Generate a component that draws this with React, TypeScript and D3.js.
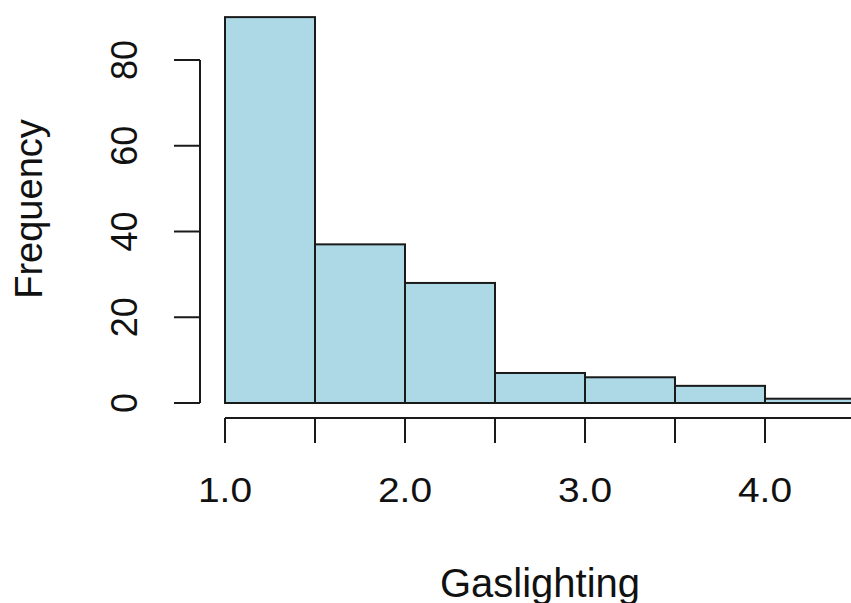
import React from "react";
import * as d3 from "d3";

const binEdges = [1.0, 1.5, 2.0, 2.5, 3.0, 3.5, 4.0, 4.5];
const counts = [90, 37, 28, 7, 6, 4, 1];
const xTicks = [1.0, 1.5, 2.0, 2.5, 3.0, 3.5, 4.0, 4.5];
const xTickLabels = ["1.0", "", "2.0", "", "3.0", "", "4.0", ""];
const yTicks = [0, 20, 40, 60, 80];
const xTitle = "Gaslighting";
const yTitle = "Frequency";

const W = 851;
const H = 603;
const FONT = "'Liberation Sans', Arial, Helvetica, sans-serif";

export default function App() {
  const x = d3.scaleLinear().domain([1.0, 2.0]).range([225, 405]);
  const y = d3.scaleLinear().domain([0, 80]).range([403, 60]);
  const bins = counts.map((c, i) => ({ x0: binEdges[i], x1: binEdges[i + 1], c }));
  const stroke = "#1a1a1a";
  const axisY = 418;
  const axisX = 200;
  return (
    <svg
      width={W}
      height={H}
      style={{ position: "fixed", left: 0, top: 0, background: "#fff" }}
    >
      <rect x={0} y={0} width={W} height={H} fill="#fff" />
      {bins.map((b, i) => (
        <rect
          key={i}
          x={x(b.x0)}
          y={y(b.c)}
          width={x(b.x1) - x(b.x0)}
          height={y(0) - y(b.c)}
          fill="#ADD8E6"
          stroke={stroke}
          strokeWidth={2}
        />
      ))}
      {/* Y axis */}
      <line x1={axisX} x2={axisX} y1={y(80)} y2={y(0)} stroke={stroke} strokeWidth={2} />
      {yTicks.map((t) => (
        <g key={t}>
          <line x1={axisX - 26} x2={axisX} y1={y(t)} y2={y(t)} stroke={stroke} strokeWidth={2} />
          <text
            transform={`translate(137,${y(t)}) rotate(-90)`}
            textAnchor="middle"
            fontFamily={FONT}
            fontSize={36}
            fill="#111"
          >
            {t}
          </text>
        </g>
      ))}
      {/* X axis */}
      <line x1={x(1.0)} x2={x(4.5)} y1={axisY} y2={axisY} stroke={stroke} strokeWidth={2} />
      {xTicks.map((t, i) => (
        <g key={t}>
          <line x1={x(t)} x2={x(t)} y1={axisY} y2={axisY + 25} stroke={stroke} strokeWidth={2} />
          {xTickLabels[i] && (
            <text
              transform={`translate(${x(t)},502) scale(1.08,1)`}
              textAnchor="middle"
              fontFamily={FONT}
              fontSize={36}
              fill="#111"
            >
              {xTickLabels[i]}
            </text>
          )}
        </g>
      ))}
      <text
        x={540}
        y={597}
        textAnchor="middle"
        fontFamily={FONT}
        fontSize={40}
        fill="#111"
      >
        {xTitle}
      </text>
      <text
        transform={`translate(42,209) rotate(-90)`}
        textAnchor="middle"
        fontFamily={FONT}
        fontSize={38}
        fill="#111"
      >
        {yTitle}
      </text>
    </svg>
  );
}
